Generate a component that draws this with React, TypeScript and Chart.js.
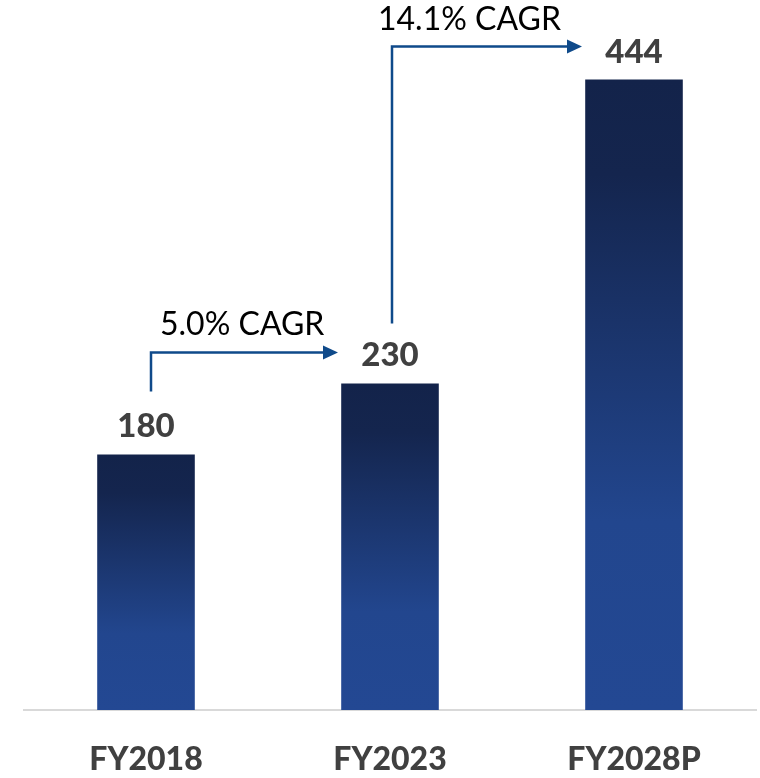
import React, { useEffect, useRef } from "react";
import { Chart, registerables } from "chart.js";

Chart.register(...registerables);

const categories = ["FY2018", "FY2023", "FY2028P"];
const values = [180, 230, 444];
const cagrLabels = ["5.0% CAGR", "14.1% CAGR"];

const FONT = "Lato, 'Open Sans', sans-serif";
const LABEL_COLOR = "#404040";
const ARROW_COLOR = "#0F4A8A";

function barGradient(context: any) {
  const chart = context.chart;
  const yScale = chart.scales && chart.scales.y;
  if (!chart.chartArea || !yScale || context.dataIndex === undefined) return "#1C3670";
  const v = values[context.dataIndex];
  const top = yScale.getPixelForValue(v);
  const bottom = yScale.getPixelForValue(0);
  if (!isFinite(top) || !isFinite(bottom) || top === bottom) return "#1C3670";
  const g = chart.ctx.createLinearGradient(0, top, 0, bottom);
  g.addColorStop(0, "#13234A");
  g.addColorStop(0.15, "#14254E");
  g.addColorStop(0.7, "#22468E");
  g.addColorStop(1, "#234893");
  return g;
}

const labelsPlugin = {
  id: "valueLabels",
  afterDatasetsDraw(chart: any) {
    const ctx = chart.ctx;
    const meta = chart.getDatasetMeta(0);
    ctx.save();
    ctx.font = `900 33px ${FONT}`;
    ctx.fillStyle = LABEL_COLOR;
    ctx.textAlign = "center";
    ctx.textBaseline = "alphabetic";
    meta.data.forEach((el: any, i: number) => {
      ctx.fillText(String(values[i]), el.x, el.y - 17);
    });

    // CAGR arrows
    const arrows = [
      { from: 0, to: 1, dx: 5, startOff: 63, lineOff: 31, textDx: 9 },
      { from: 1, to: 2, dx: 2, startOff: 60, lineOff: 33, textDx: -14 },
    ];
    arrows.forEach((a, k) => {
      const e1 = meta.data[a.from];
      const e2 = meta.data[a.to];
      const vx = e1.x + a.dx;
      const y0 = e1.y - a.startOff;
      const hy = e2.y - a.lineOff;
      const tip = e2.x - 52;
      ctx.strokeStyle = ARROW_COLOR;
      ctx.fillStyle = ARROW_COLOR;
      ctx.lineWidth = 2.5;
      ctx.lineCap = "butt";
      ctx.beginPath();
      ctx.moveTo(vx, y0);
      ctx.lineTo(vx, hy);
      ctx.lineTo(tip - 12, hy);
      ctx.stroke();
      ctx.beginPath();
      ctx.moveTo(tip, hy);
      ctx.lineTo(tip - 15, hy - 7);
      ctx.lineTo(tip - 15, hy + 7);
      ctx.closePath();
      ctx.fill();
      ctx.font = `32px ${FONT}`;
      ctx.fillStyle = "#000000";
      ctx.textAlign = "left";
      ctx.fillText(cagrLabels[k], vx + a.textDx, hy - 17);
    });
    ctx.restore();
  },
};

export default function App() {
  const ref = useRef<HTMLCanvasElement>(null);
  useEffect(() => {
    document.body.style.margin = "0";
    const chart = new Chart(ref.current!, {
      type: "bar",
      data: {
        labels: categories,
        datasets: [
          {
            data: values,
            backgroundColor: barGradient,
            barPercentage: 0.4,
            categoryPercentage: 1,
          },
        ],
      },
      options: {
        responsive: false,
        animation: false,
        layout: { padding: { left: 24, right: 4, top: 0, bottom: 0 } },
        plugins: { legend: { display: false }, tooltip: { enabled: false } },
        scales: {
          x: {
            grid: { display: false, drawTicks: false },
            border: { display: true, color: "#D9D9D9", width: 2 },
            ticks: {
              color: LABEL_COLOR,
              font: { family: FONT, size: 32, weight: 900, lineHeight: 1.2 },
              padding: 30,
            },
            afterFit(scale: any) {
              scale.height = 68;
            },
          },
          y: {
            display: false,
            min: 0,
            max: 500,
          },
        },
      },
      plugins: [labelsPlugin],
    });
    return () => chart.destroy();
  }, []);
  return <canvas ref={ref} width={760} height={778} style={{ display: "block" }} />;
}
